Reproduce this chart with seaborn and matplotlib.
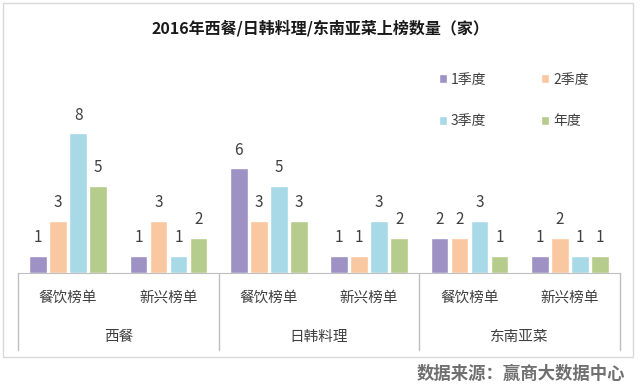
import matplotlib
matplotlib.use('Agg')
import matplotlib.pyplot as plt
import matplotlib.transforms as mtransforms
from matplotlib.patches import Rectangle
import seaborn as sns
import pandas as pd

# data
cuisines = ['西餐', '日韩料理', '东南亚菜']
lists = ['餐饮榜单', '新兴榜单']
series = ['1季度', '2季度', '3季度', '年度']
q1 = [1, 1, 6, 1, 2, 1]
q2 = [3, 3, 3, 1, 2, 2]
q3 = [8, 1, 5, 3, 3, 1]
year = [5, 2, 3, 2, 1, 1]
colors = ['#9e91c4', '#f9c8a0', '#a8d9e6', '#b6cc8c']

sns.set_style('white')
plt.rcParams['font.family'] = ['Noto Sans CJK SC', 'DejaVu Sans']

# long form table for seaborn
keys = [c + '-' + l for c in cuisines for l in lists]
rows = []
for name, vals in zip(series, [q1, q2, q3, year]):
    for k, v in zip(keys, vals):
        rows.append({'cat': k, 'series': name, 'value': v})
df = pd.DataFrame(rows)

fig = plt.figure(figsize=(6.4, 3.9), dpi=100)
W, H = 640, 390
ax = fig.add_axes([18 / W, (H - 273) / H, (620 - 18) / W, 213 / H])

sns.barplot(data=df, x='cat', y='value', hue='series', order=keys, hue_order=series,
            palette=colors, width=0.8, gap=0.12, ax=ax, saturation=1)
ax.set_ylim(0, 12.2)
ax.set_xlim(-0.5, 5.5)

# value labels
for cont in ax.containers:
    ax.bar_label(cont, padding=7, fontsize=11, color='#404040')

# axis cleanup
for s in ['top', 'right', 'left']:
    ax.spines[s].set_visible(False)
ax.spines['bottom'].set_color('#bfbfbf')
ax.set_xlabel('')
ax.set_ylabel('')
ax.set_yticks([])
ax.set_xticks([])

# two-level category labels under the axis
trans = mtransforms.blended_transform_factory(ax.transData, ax.transAxes)
for i, k in enumerate(keys):
    ax.text(i, -0.117, k.split('-')[1], transform=trans, ha='center', va='center',
            fontsize=10.5, color='#404040')
for j, c in enumerate(cuisines):
    ax.text(2 * j + 0.5, -0.30, c, transform=trans, ha='center', va='center',
            fontsize=10.5, color='#404040')
for xb in [-0.5, 1.5, 3.5, 5.5]:
    ax.axvline(xb, ymin=-0.36, ymax=0, clip_on=False, color='#bfbfbf', lw=1)

# legend, filled row by row like the original
handles, labels = ax.get_legend_handles_labels()
order = [0, 2, 1, 3]
ax.legend([handles[i] for i in order], [labels[i] for i in order], ncol=2,
          frameon=False, loc='upper left',
          bbox_to_anchor=(426 / W, 1 - 60 / H), bbox_transform=fig.transFigure,
          fontsize=10, handlelength=0.6, handleheight=0.6, handletextpad=0.3,
          labelspacing=2.0, columnspacing=3.9, labelcolor='#404040')

# title, frame and source
fig.text(0.5, 1 - 28 / H, '2016年西餐/日韩料理/东南亚菜上榜数量（家）',
         ha='center', va='center', fontsize=11.5, fontweight='bold', color='#1a1a1a')
fig.patches.append(Rectangle((3 / W, 1 - 357 / H), 630 / W, 354 / H,
                             transform=fig.transFigure, fill=False,
                             edgecolor='#d9d9d9', lw=1))
fig.text(625 / W, 1 - 374 / H, '数据来源：赢商大数据中心', ha='right', va='center',
         fontsize=12.5, fontweight='bold', color='#707070')

fig.savefig('out.png', dpi=100)
